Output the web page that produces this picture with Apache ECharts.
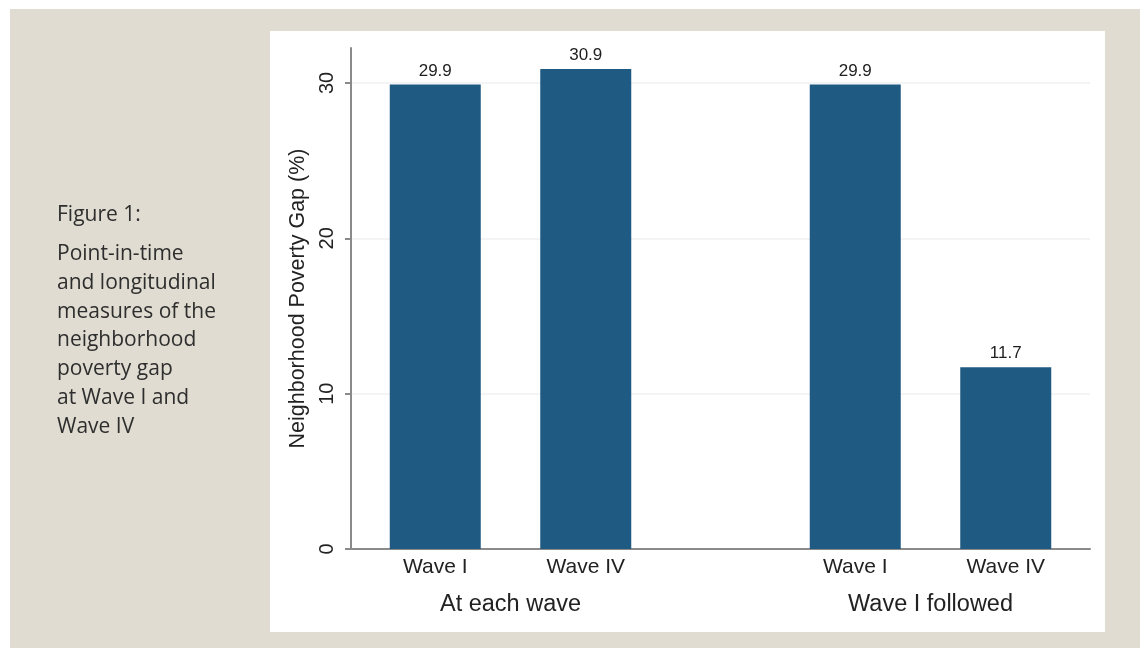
<!DOCTYPE html>
<html>
<head>
<meta charset="utf-8">
<script src="https://cdn.jsdelivr.net/npm/echarts@6/dist/echarts.min.js"></script>
<style>
  html, body { margin: 0; padding: 0; background: #ffffff; }
  #chart { width: 1140px; height: 648px; }
</style>
</head>
<body>
<div id="chart"></div>
<script>
// ---- data ----
const groups = ["At each wave", "Wave I followed"];
const waves = ["Wave I", "Wave IV"];
const atEachWave = [29.9, 30.9];
const waveIFollowed = [29.9, 11.7];
const yTicks = [0, 10, 20, 30];
const yTitle = "Neighborhood Poverty Gap (%)";
const captionTitle = "Figure 1:";
const captionLines = ["Point-in-time", "and longitudinal", "measures of the", "neighborhood", "poverty gap", "at Wave I and", "Wave IV"];

const Y_MAX = 32.25;
const FONT = "'Liberation Sans', Arial, Helvetica, sans-serif";
const CAP_FONT = "21px 'Open Sans', Lato, sans-serif";
const TXT = '#222222';
const BAR = '#1f5a82';

const chart = echarts.init(document.getElementById('chart'), null, { renderer: 'canvas' });

function barGroupAxis(idx, name) {
  return {
    type: 'category', gridIndex: idx, data: waves,
    axisLine: { show: false }, axisTick: { show: false },
    axisLabel: { fontFamily: FONT, fontSize: 21, color: TXT, margin: 8 },
    name: name, nameLocation: 'middle', nameGap: 44,
    nameTextStyle: { fontFamily: FONT, fontSize: 23.5, color: TXT }
  };
}
function hiddenY(idx) {
  return { type: 'value', gridIndex: idx, min: 0, max: Y_MAX, show: false };
}
function barSeries(idx, values) {
  return {
    type: 'bar', xAxisIndex: idx, yAxisIndex: idx, data: values, barWidth: 91,
    itemStyle: { color: BAR },
    label: { show: true, position: 'top', distance: 5, fontFamily: FONT, fontSize: 17,
             color: '#1e1e1e', formatter: p => p.value.toFixed(1) },
    z: 3
  };
}

const option = {
  animation: false,
  backgroundColor: '#ffffff',
  graphic: [
    { type: 'rect', z: -10, shape: { x: 10, y: 9, width: 1130, height: 639 }, style: { fill: '#e0dcd1' }, silent: true },
    { type: 'rect', z: -9, shape: { x: 270, y: 31, width: 835, height: 601 }, style: { fill: '#ffffff' }, silent: true },
    { type: 'text', z: 5, left: 57, top: 205, style: { text: captionTitle, font: CAP_FONT, fill: '#2e2e2e' } },
    { type: 'text', z: 5, left: 57, top: 240, style: { text: captionLines.join('\n'), font: CAP_FONT, lineHeight: 28.7, fill: '#2e2e2e' } }
  ],
  grid: [
    { left: 351, right: 50, top: 48, bottom: 99, containLabel: false },
    { left: 360, width: 301, top: 48, bottom: 99, containLabel: false },
    { left: 780, width: 301, top: 48, bottom: 99, containLabel: false }
  ],
  xAxis: [
    { type: 'value', gridIndex: 0, min: 0, max: 1,
      axisLine: { show: true, onZero: false, lineStyle: { color: '#8a8a8a', width: 2 } },
      axisTick: { show: false }, axisLabel: { show: false }, splitLine: { show: false } },
    barGroupAxis(1, groups[0]),
    barGroupAxis(2, groups[1])
  ],
  yAxis: [
    { type: 'value', gridIndex: 0, min: 0, max: Y_MAX, interval: 10,
      axisLine: { show: true, lineStyle: { color: '#8a8a8a', width: 2 } },
      axisTick: { show: true, length: 6, customValues: yTicks, lineStyle: { color: '#8a8a8a', width: 2 } },
      axisLabel: { show: true, customValues: yTicks, rotate: 90, margin: 14, fontFamily: FONT, fontSize: 20, color: TXT },
      splitLine: { show: true, lineStyle: { color: '#eef0f2', width: 1.5 } },
      name: yTitle, nameLocation: 'middle', nameRotate: 90, nameGap: 36,
      nameTextStyle: { fontFamily: FONT, fontSize: 21.5, color: TXT } },
    hiddenY(1),
    hiddenY(2)
  ],
  series: [
    barSeries(1, atEachWave),
    barSeries(2, waveIFollowed)
  ]
};
chart.setOption(option);
</script>
</body>
</html>
